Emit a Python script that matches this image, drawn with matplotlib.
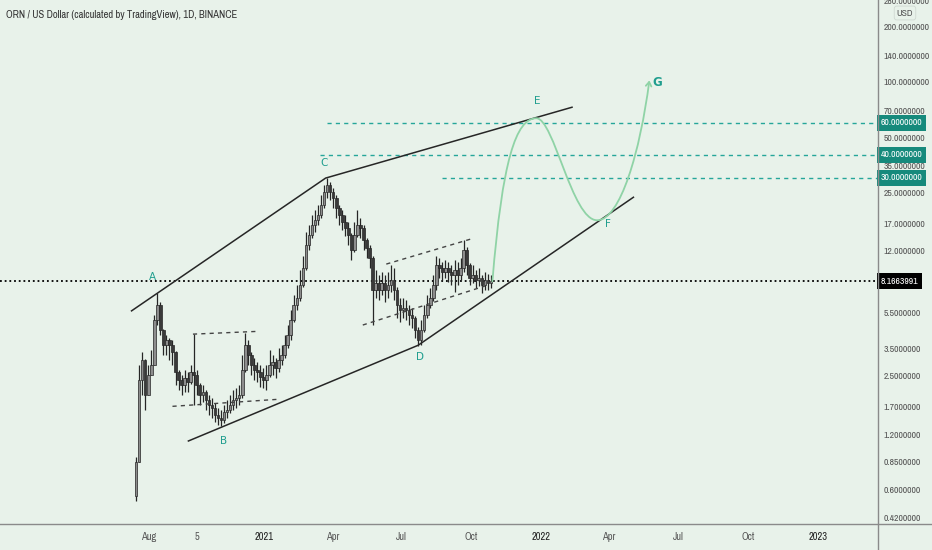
import numpy as np
import pandas as pd
import matplotlib
matplotlib.use("Agg")
import matplotlib.pyplot as plt
import matplotlib.dates as mdates
from matplotlib import font_manager
from matplotlib.path import Path
from matplotlib.patches import FancyArrowPatch
from matplotlib.lines import Line2D
from matplotlib.transforms import blended_transform_factory

# TradingView's scale text is narrow; use a narrow face when one is installed
installed = {f.name for f in font_manager.fontManager.ttflist}
narrow = [n for n in installed if 'Narrow' in n or 'Condensed' in n]
if narrow:
    FONT = sorted(narrow)[0]
    FS = 7.0
else:
    FONT = 'Liberation Sans'
    FS = 6.0
plt.rcParams['font.family'] = [FONT, 'DejaVu Sans']

# ---- 4-day candles (ORN/USD) ----
start_date = '2020-07-16'
first_open = 0.55
closes = [0.85, 2.36, 3.04, 1.96, 2.52, 2.85, 5.02, 6.06, 4.42, 3.66,
          3.90, 3.66, 3.35, 2.61, 2.36, 2.22, 2.42, 2.30, 2.61, 2.52,
          2.22, 1.96, 2.03, 1.84, 1.72, 1.66, 1.52, 1.47, 1.43, 1.58,
          1.62, 1.72, 1.84, 1.89, 1.96, 2.68, 3.66, 3.23, 2.85, 2.68,
          2.61, 2.45, 2.36, 2.52, 2.85, 2.96, 2.75, 3.04, 3.23, 3.66,
          4.16, 5.02, 6.06, 6.59, 7.80, 9.63, 12.9, 14.6, 16.6, 17.6,
          18.8, 21.3, 25.0, 27.3, 25.0, 23.2, 20.5, 18.8, 17.2, 16.0,
          14.6, 12.1, 14.6, 16.6, 16.0, 13.7, 12.4, 10.9, 7.30, 7.99,
          7.30, 7.99, 7.30, 7.80, 8.30, 7.30, 6.06, 5.70, 5.84, 5.70,
          5.35, 5.15, 4.42, 3.90, 4.42, 5.35, 6.06, 6.59, 7.80, 10.0,
          9.63, 9.17, 9.63, 9.17, 8.83, 9.40, 8.83, 9.63, 12.1, 10.0,
          8.50, 8.83, 8.30, 8.50, 7.80, 8.30, 7.99, 8.1664]
highs = [0.90, 2.85, 3.35, 3.10, 2.85, 3.44, 5.35, 7.03, 6.30, 4.50,
         4.16, 4.00, 3.90, 3.40, 2.70, 2.52, 2.68, 2.61, 2.85, 4.21,
         2.68, 2.27, 2.22, 2.08, 1.96, 1.89, 1.77, 1.66, 1.62, 1.72,
         1.84, 1.96, 2.08, 2.14, 2.22, 3.23, 4.26, 3.90, 3.35, 3.11,
         2.96, 2.85, 2.75, 2.85, 3.44, 3.23, 3.11, 3.53, 3.66, 4.16,
         4.72, 5.70, 6.85, 7.80, 9.40, 11.3, 15.2, 16.6, 18.8, 20.0,
         21.3, 24.1, 27.3, 29.9, 28.4, 26.3, 24.1, 21.3, 20.0, 18.8,
         17.2, 15.0, 17.2, 20.0, 18.1, 16.6, 14.0, 12.9, 11.2, 9.40,
         8.83, 9.17, 8.83, 9.17, 10.0, 9.63, 7.60, 6.59, 6.59, 6.45,
         6.06, 5.84, 5.30, 4.60, 5.02, 6.06, 6.85, 7.51, 8.83, 11.3,
         10.9, 10.4, 10.7, 10.4, 10.0, 10.7, 10.4, 10.9, 13.7, 12.6,
         10.3, 10.0, 9.40, 9.63, 8.83, 9.17, 8.94, 8.83]
lows = [0.52, 0.85, 1.96, 1.62, 1.96, 2.52, 2.85, 4.72, 4.16, 3.23,
        3.23, 3.04, 2.85, 2.22, 2.08, 1.96, 2.03, 2.03, 2.25, 1.72,
        1.96, 1.72, 1.80, 1.62, 1.52, 1.47, 1.40, 1.35, 1.32, 1.38,
        1.47, 1.56, 1.62, 1.66, 1.72, 1.89, 2.61, 2.85, 2.52, 2.36,
        2.30, 2.17, 2.14, 2.08, 2.45, 2.52, 2.42, 2.61, 2.85, 3.11,
        3.53, 3.90, 4.90, 5.70, 6.40, 7.60, 9.40, 12.1, 14.0, 15.2,
        16.6, 18.1, 20.5, 23.2, 22.7, 20.5, 18.1, 16.6, 15.5, 14.4,
        12.9, 10.7, 11.8, 14.2, 14.0, 12.1, 10.9, 9.63, 4.72, 6.59,
        6.45, 6.85, 6.29, 6.59, 7.12, 6.45, 5.15, 4.90, 5.15, 5.02,
        4.72, 4.55, 4.00, 3.62, 3.66, 4.30, 5.15, 5.84, 6.40, 7.30,
        8.50, 8.30, 8.50, 8.09, 7.80, 7.12, 7.80, 8.30, 9.17, 8.83,
        7.80, 7.99, 7.51, 7.70, 7.03, 7.30, 7.30, 7.51]
last_price = 8.1663991

# ---- drawings on the chart ----
upper_dates = ['2020-07-10', '2021-03-23', '2022-02-11']
upper_prices = [5.64, 29.9, 72.8]
lower_dates = ['2020-09-23', '2021-07-23', '2022-05-03']
lower_prices = [1.10, 3.66, 23.5]

dashed_dates = [['2020-09-29', '2020-12-24'], ['2020-09-02', '2021-01-22'],
                ['2021-06-11', '2021-10-03'], ['2021-05-11', '2021-10-19']]
dashed_prices = [[4.21, 4.36], [1.70, 1.86], [10.15, 14.0], [4.72, 7.70]]

target_levels = [60, 40, 30]
target_starts = ['2021-03-25', '2021-03-15', '2021-08-24']

# projected path: start, then (ctrl, ctrl, anchor) x3
curve_dates = ['2021-10-29', '2021-11-11', '2021-11-29', '2021-12-26',
               '2022-01-18', '2022-02-11', '2022-03-16',
               '2022-04-16', '2022-05-12', '2022-05-24']
curve_prices = [8.17, 37.4, 63.4, 63.4, 63.4, 17.6, 17.6, 17.6, 42.4, 102]

wave_labels = ['A', 'B', 'C', 'D', 'E', 'F', 'G']
wave_dates = ['2020-08-07', '2020-11-09', '2021-03-21', '2021-07-25',
              '2021-12-27', '2022-03-31', '2022-06-03']
wave_prices = [8.6, 1.10, 36.0, 3.15, 78.5, 16.8, 99.6]

y_ticks = [0.42, 0.6, 0.85, 1.2, 1.7, 2.5, 3.5, 5.5, 12, 17, 25, 35,
           50, 70, 100, 140, 200, 280]
x_tick_dates = ['2020-08-01', '2020-10-05', '2021-01-01', '2021-04-01',
                '2021-07-01', '2021-10-01', '2022-01-01', '2022-04-01',
                '2022-07-01', '2022-10-01', '2023-01-01']
x_tick_labels = ['Aug', '5', '2021', 'Apr', 'Jul', 'Oct', '2022', 'Apr',
                 'Jul', 'Oct', '2023']

BG = '#e8f2ea'
TEAL = '#26a69a'
TEAL_BOX = '#168a7c'
LABEL = '#1f9e8e'
CURVE = '#8fd3a6'
INK = '#262626'


def dn(d):
    return mdates.date2num(pd.to_datetime(d))


fig = plt.figure(figsize=(9.32, 5.5), dpi=100, facecolor=BG)
ax = fig.add_axes([0, 26 / 550, 878 / 932, 524 / 550])
ax.set_facecolor(BG)
ax.set_yscale('log')
ax.set_xlim(dn('2020-01-18 12:00'), dn('2023-03-21 14:00'))
ax.set_ylim(0.3877, 279)
for s in ax.spines.values():
    s.set_visible(False)

# candles
dates = mdates.date2num(pd.date_range(start_date, periods=len(closes), freq='4D'))
c = np.array(closes)
o = np.array([first_open] + closes[:-1])
h = np.array(highs)
l = np.array(lows)
up = c >= o
ax.vlines(dates, l, h, color=INK, lw=0.9, zorder=3)
ax.bar(dates, np.abs(c - o), bottom=np.minimum(o, c), width=3.4,
       color=np.where(up, '#8d8d8d', '#3a3a3a'), edgecolor=INK,
       linewidth=0.5, zorder=4)

# last price dotted line
ax.axhline(last_price, color='black', lw=1.3, ls=(0, (1, 1.6)), zorder=2)

# trend lines
ax.plot([dn(d) for d in upper_dates], upper_prices, color=INK, lw=1.1, zorder=5)
ax.plot([dn(d) for d in lower_dates], lower_prices, color=INK, lw=1.1, zorder=5)
for ds, ps in zip(dashed_dates, dashed_prices):
    ax.plot([dn(d) for d in ds], ps, color='#444444', lw=1.0,
            ls=(0, (3, 3)), zorder=5)

# target levels
xmax = ax.get_xlim()[1]
for lev, st in zip(target_levels, target_starts):
    ax.plot([dn(st), xmax], [lev, lev], color=TEAL, lw=1.0,
            ls=(0, (3, 3)), zorder=2)

# projected path with arrow
verts = list(zip([dn(d) for d in curve_dates], curve_prices))
codes = [Path.MOVETO] + [Path.CURVE4] * 9
arrow = FancyArrowPatch(path=Path(verts, codes),
                        arrowstyle='->,head_length=3,head_width=2',
                        color=CURVE, lw=1.3, zorder=6)
ax.add_patch(arrow)

for lab, d, p in zip(wave_labels, wave_dates, wave_prices):
    ax.text(dn(d), p, lab, color=LABEL, fontsize=7.5 if lab != 'G' else 8.5,
            ha='center', va='center', zorder=7, family='DejaVu Sans',
            fontweight='bold' if lab == 'G' else 'normal')

# axes / ticks
ax.yaxis.tick_right()
ax.set_yticks(y_ticks)
ax.set_yticklabels(['%.7f' % v for v in y_ticks])
ax.yaxis.set_minor_locator(matplotlib.ticker.NullLocator())
ax.tick_params(axis='y', length=0, pad=4, labelsize=FS, labelcolor='#555555')
ax.set_xticks([dn(d) for d in x_tick_dates])
ax.set_xticklabels(x_tick_labels)
ax.tick_params(axis='x', length=0, pad=6, labelsize=FS + 0.5, labelcolor='#555555')
for t in ax.get_xticklabels():
    if len(t.get_text()) == 4 and t.get_text().isdigit():
        t.set_color('#222222')
        t.set_fontweight('bold')

# price boxes on the right scale
tr = blended_transform_factory(ax.transAxes, ax.transData)
for lev in target_levels:
    ax.text(1 + 2.5 / 878, lev, '%.7f' % lev, transform=tr, ha='left',
            va='center', fontsize=FS, color='white', clip_on=False, zorder=10,
            bbox=dict(boxstyle='square,pad=0.35', fc=TEAL_BOX, ec='none'))
ax.text(1 + 2.5 / 878, last_price, '%.7f' % last_price, transform=tr,
        ha='left', va='center', fontsize=FS, color='white', clip_on=False,
        zorder=10, bbox=dict(boxstyle='square,pad=0.35', fc='black', ec='none'))

fig.text(905 / 932, 1 - 13 / 550, 'USD', fontsize=FS, color='#555555',
         ha='center', va='center',
         bbox=dict(boxstyle='round,pad=0.25', fc=BG, ec='#cfd8d1', lw=0.6))

# frame lines of the price and time scales
fig.add_artist(Line2D([878 / 932, 878 / 932], [0, 1], color='#8a8a8a', lw=1.0))
fig.add_artist(Line2D([0, 1], [26 / 550, 26 / 550], color='#8a8a8a', lw=1.0))

fig.text(6 / 932, 1 - 15 / 550,
         'ORN / US Dollar (calculated by TradingView), 1D, BINANCE',
         fontsize=FS + 0.6, color='#333333', ha='left', va='center')

fig.savefig('out.png', dpi=100, facecolor=BG)
